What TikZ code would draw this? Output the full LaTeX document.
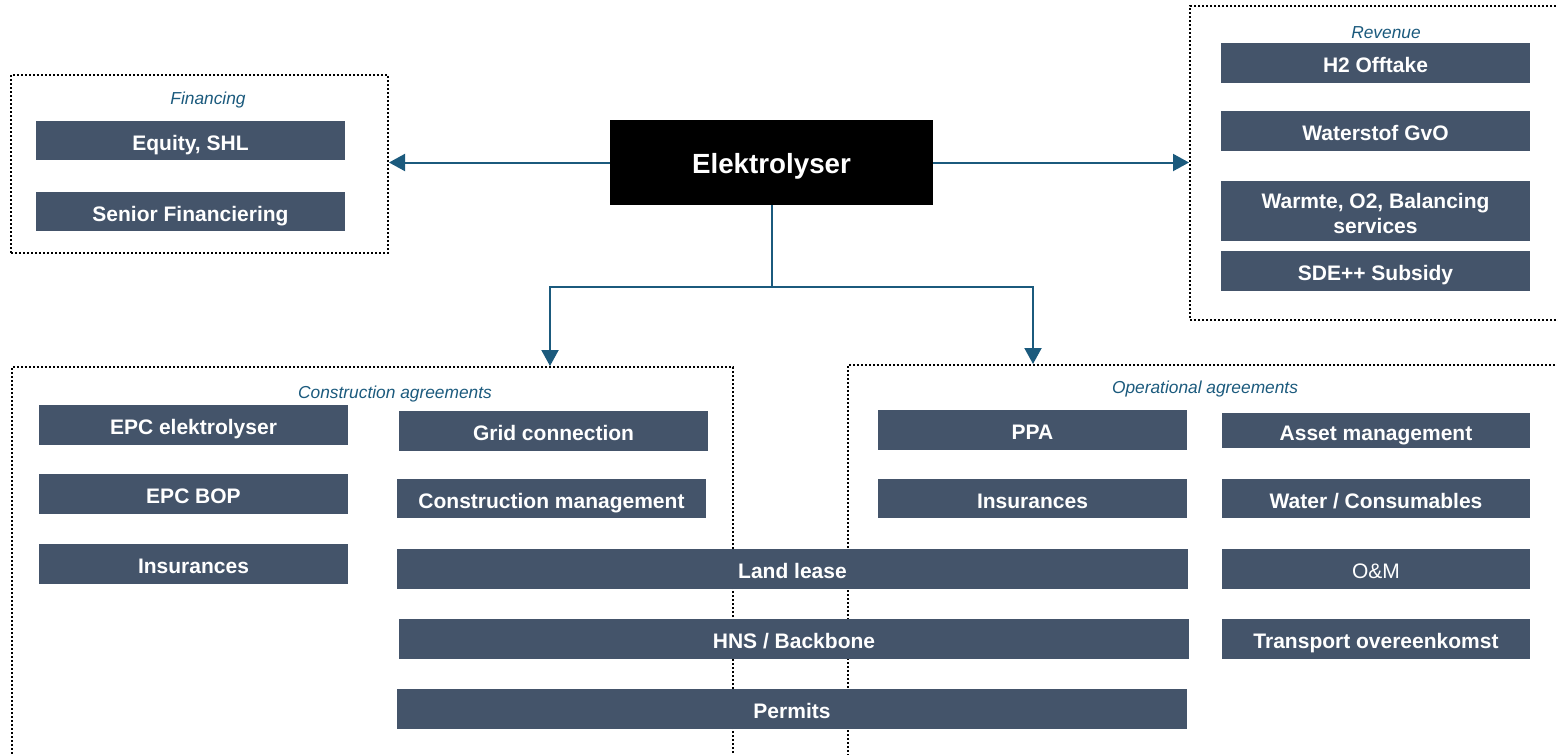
\documentclass[tikz,border=0pt]{standalone}
\usepackage{fontspec}
\setmainfont{Liberation Sans}
\usetikzlibrary{fit,arrows.meta}
\definecolor{barcol}{HTML}{44546A}
\definecolor{linkcol}{HTML}{1B5A7D}
\begin{document}
\begin{tikzpicture}[x=0.75pt,y=-0.75pt,
  barfont/.style={text=white, inner sep=0pt, align=center,
    font=\fontsize{15.75}{18.75}\selectfont\bfseries},
  bartext/.style={barfont, text height=11.3pt, text depth=0pt, yshift=-1.5pt},
  bar/.style={fill=barcol, inner sep=0pt, label={[bartext]center:#1}},
  twolinebar/.style={fill=barcol, inner sep=0pt,
    label={[barfont, yshift=-2pt]center:#1}},
  plainbar/.style={fill=barcol, inner sep=0pt,
    label={[bartext, font=\fontsize{15.75}{18.75}\selectfont]center:#1}},
  group/.style={draw=black, line width=1.5pt, dash pattern=on 1.5pt off 1.5pt, inner sep=0pt},
  grouplabel/.style={text=linkcol, inner sep=0pt, font=\fontsize{13}{15}\selectfont\itshape},
  conn/.style={draw=linkcol, line width=1.5pt},
  tip/.style={-{Triangle[width=12.75pt,length=12pt]}}]
\clip (0,0) rectangle (1556,754);

% dotted group frames
\node[group, fit={(11,75) (388,253)}] (fin) {};
\node[group, fit={(1190,6) (1600,320)}] (rev) {};
\node[group, fit={(12,367) (733,800)}] (cons) {};
\node[group, fit={(848,365) (1600,800)}] (oper) {};

\node[grouplabel] (finlab) at (208,100) {Financing};
\node[grouplabel] (revlab) at (1386,33) {Revenue};
\node[grouplabel] (conslab) at (395,394) {Construction agreements};
\node[grouplabel] (operlab) at (1205,389) {Operational agreements};

% central unit
\node[fill=black, inner sep=0pt, fit={(610,120) (933,205)},
      label={[text=white, inner sep=0pt, text height=15pt, text depth=0pt, yshift=-0.4pt,
              font=\fontsize{20.8}{24}\selectfont\bfseries]center:Elektrolyser}] (elek) {};

% financing
\node[bar={Equity, SHL}, fit={(36,121) (345,160)}] (equity) {};
\node[bar={Senior Financiering}, fit={(36,192) (345,231)}] (senior) {};

% revenue
\node[bar={H2 Offtake}, fit={(1221,43) (1530,83)}] (offtake) {};
\node[bar={Waterstof GvO}, fit={(1221,111) (1530,151)}] (gvo) {};
\node[twolinebar={Warmte, O2, Balancing\\services}, fit={(1221,181) (1530,241)}] (warmte) {};
\node[bar={SDE++ Subsidy}, fit={(1221,251) (1530,291)}] (sde) {};

% construction agreements
\node[bar={EPC elektrolyser}, fit={(39,405) (348,445)}] (epcel) {};
\node[bar={Grid connection}, fit={(399,411) (708,451)}] (grid) {};
\node[bar={EPC BOP}, fit={(39,474) (348,514)}] (epcbop) {};
\node[bar={Construction management}, fit={(397,479) (706,518)}] (cmgmt) {};
\node[bar={Insurances}, fit={(39,544) (348,584)}] (insc) {};

% shared agreements
\node[bar={Land lease}, fit={(397,549) (1188,589)}] (land) {};
\node[bar={HNS / Backbone}, fit={(399,619) (1189,659)}] (hns) {};
\node[bar={Permits}, fit={(397,689) (1187,729)}] (permits) {};

% operational agreements
\node[bar={PPA}, fit={(878,410) (1187,450)}] (ppa) {};
\node[bar={Asset management}, fit={(1222,413) (1530,448)}] (asset) {};
\node[bar={Insurances}, fit={(878,479) (1187,518)}] (inso) {};
\node[bar={Water / Consumables}, fit={(1222,479) (1530,518)}] (water) {};
\node[plainbar={O\&M}, fit={(1222,549) (1530,589)}] (om) {};
\node[bar={Transport overeenkomst}, fit={(1222,619) (1530,659)}] (transport) {};

% connectors
\coordinate (junction) at (771.5,287);
\coordinate (consx) at (550,0);
\coordinate (operx) at (1033,0);
\draw[conn, tip] (elek.west) -- (fin.east |- elek.west);
\draw[conn, tip] (elek.east) -- (rev.west |- elek.east);
\draw[conn] (elek.south) -- (junction);
\draw[conn, tip] (junction) -| (consx |- cons.north);
\draw[conn, tip] (junction) -| (operx |- oper.north);
\end{tikzpicture}
\end{document}
